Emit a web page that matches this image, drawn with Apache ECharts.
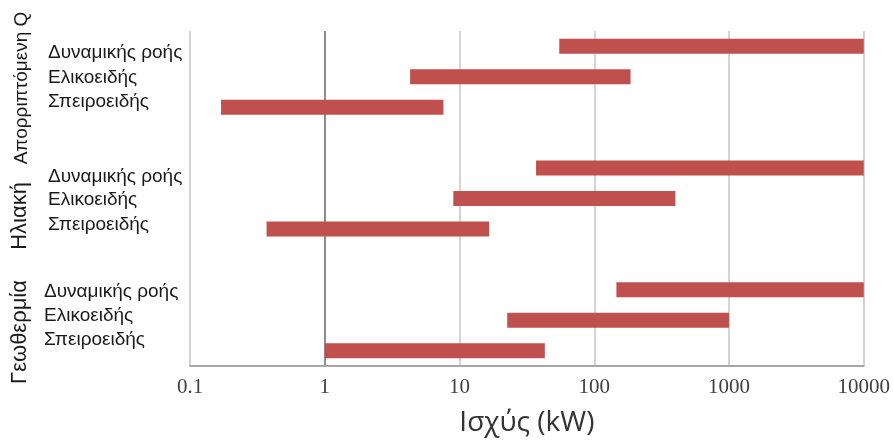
<!DOCTYPE html>
<html>
<head>
<meta charset="utf-8">
<script src="https://cdn.jsdelivr.net/npm/echarts@6/dist/echarts.min.js"></script>
<style>html,body{margin:0;padding:0;background:#fff}#c{width:893px;height:445px}</style>
</head>
<body>
<div id="c"></div>
<script>
// ---- data ----
const groups = ['Απορριπτόμενη Q', 'Ηλιακή', 'Γεωθερμία'];
const types = ['Δυναμικής ροής', 'Ελικοειδής', 'Σπειροειδής'];
// ranges [low, high] in kW, per group in order of types
const wasteHeatLow = [55, 4.3, 0.17];
const wasteHeatHigh = [10000, 186, 7.6];
const solarLow = [37, 9, 0.37];
const solarHigh = [10000, 400, 16.6];
const geoLow = [146, 22.6, 1];
const geoHigh = [10000, 1000, 43];
const tickLabels = ['0.1', '1', '10', '100', '1000', '10000'];
const axisTitle = 'Ισχύς (kW)';

// ---- build ----
const lows = [wasteHeatLow, solarLow, geoLow];
const highs = [wasteHeatHigh, solarHigh, geoHigh];
const slots = [];
const rows = [];
groups.forEach((g, gi) => {
  types.forEach((t, ti) => {
    rows.push([slots.length, lows[gi][ti], highs[gi][ti]]);
    slots.push(g + ' · ' + t);
  });
  if (gi < groups.length - 1) slots.push('');
});

const BAR = '#C0504D';
const chart = echarts.init(document.getElementById('c'), null, {renderer: 'canvas'});

// label layout (positions of text, not data)
const subLabelX = [48, 48, 44];
const subLabelY = [[53, 78, 102], [177, 200, 225], [292, 316, 340]];
const groupLabelPos = [[22, 88, 19], [20, 216, 22], [20, 332, 22]];
const graphic = [];
groups.forEach((g, gi) => {
  graphic.push({
    type: 'text', x: groupLabelPos[gi][0], y: groupLabelPos[gi][1], rotation: Math.PI / 2,
    style: {text: g, textAlign: 'center', textVerticalAlign: 'middle',
      font: groupLabelPos[gi][2] + 'px "Liberation Sans", Arial, sans-serif', fill: '#1a1a1a'}
  });
  types.forEach((t, ti) => {
    graphic.push({
      type: 'text', x: subLabelX[gi], y: subLabelY[gi][ti],
      style: {text: t, textAlign: 'left', textVerticalAlign: 'middle',
        font: '19px "Liberation Sans", Arial, sans-serif', fill: '#1a1a1a'}
    });
  });
});

chart.setOption({
  animation: false,
  backgroundColor: '#fff',
  grid: {left: 190, right: 29, top: 31, bottom: 79, containLabel: false},
  xAxis: {
    type: 'log', logBase: 10, min: 0.1, max: 10000,
    axisLine: {show: true, lineStyle: {color: '#a6a6a6', width: 2}},
    axisTick: {show: false},
    axisLabel: {
      margin: 11, color: '#404040', fontSize: 21, fontFamily: '"Liberation Serif", serif',
      formatter: v => {
        const i = Math.round(Math.log10(v)) + 1;
        return tickLabels[i] !== undefined ? tickLabels[i] : '';
      }
    },
    splitLine: {show: true, lineStyle: {color: ['#d4d4d4', '#8c8c8c', '#d4d4d4', '#d4d4d4', '#d4d4d4', '#d4d4d4'], width: 2}},
    name: axisTitle, nameLocation: 'middle', nameGap: 43,
    nameTextStyle: {fontSize: 28, color: '#333', fontFamily: '"Open Sans", sans-serif'}
  },
  yAxis: {
    type: 'category', data: slots, inverse: true,
    axisLine: {show: false}, axisTick: {show: false}, axisLabel: {show: false},
    splitLine: {show: false}
  },
  graphic: graphic,
  series: [{
    type: 'custom',
    data: rows,
    encode: {x: [1, 2], y: 0},
    renderItem: function (params, api) {
      const cat = api.value(0);
      const a = api.coord([api.value(1), cat]);
      const b = api.coord([api.value(2), cat]);
      const h = 15;
      return {
        type: 'rect',
        shape: {x: a[0], y: a[1] - h / 2, width: b[0] - a[0], height: h},
        style: {fill: BAR}
      };
    }
  }]
});
</script>
</body>
</html>
